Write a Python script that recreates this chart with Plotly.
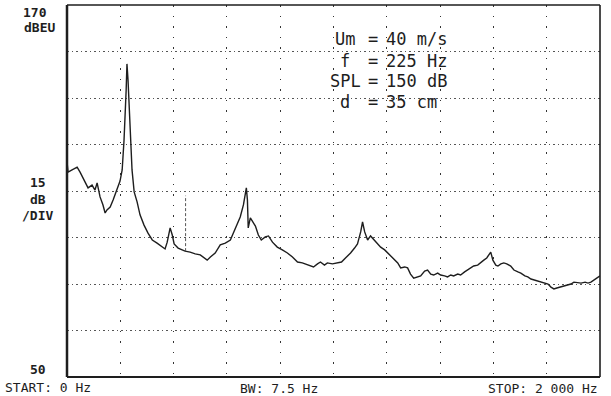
import plotly.graph_objects as go

# Spectrum: frequency (Hz) and level (dB)
freq_hz = [0, 4, 19, 38, 49, 60, 68, 79, 94, 105, 113, 124, 135, 143, 150, 162, 173, 184,
           199, 207, 214, 222, 225, 229, 237, 244, 252, 263, 274, 289, 304, 320, 338, 357,
           368, 376, 383, 387, 395, 402, 417, 432, 443, 462, 481, 500, 515,
           526, 538, 556, 575, 594, 613, 624, 639, 650, 662, 669, 673, 677, 680, 688, 699,
           707, 718, 729, 744, 756, 771, 789, 808, 827, 846, 865, 883, 902, 925, 940, 951,
           966, 977, 996, 1015, 1030, 1045, 1064, 1079, 1090, 1102, 1109, 1117, 1128, 1139,
           1150, 1162, 1177, 1192, 1203, 1222, 1241, 1252, 1267, 1278, 1289, 1301, 1316,
           1327, 1342, 1353, 1365, 1376, 1391, 1402, 1417, 1428, 1440, 1451, 1466, 1477,
           1492, 1504, 1515, 1526, 1541, 1553, 1564, 1575, 1583, 1590, 1598, 1609, 1617,
           1628, 1639, 1650, 1665, 1677, 1692, 1703, 1718, 1729, 1741, 1752, 1767, 1778,
           1790, 1805, 1816, 1827, 1838, 1853, 1865, 1880, 1891, 1902, 1917, 1929, 1944,
           1955, 1966, 1977, 1989, 2000]
level_db = [119.4, 116.1, 116.8, 117.7, 116.1, 114.2, 112.9, 111.0, 111.9, 110.3, 112.6,
            108.1, 105.5, 102.9, 103.9, 104.8, 107.1, 110.0, 113.2, 116.8, 126.4, 142.6,
            151.0, 145.8, 129.7, 116.8, 109.7, 106.5, 102.3, 99.0, 96.4, 94.2, 93.2, 91.9,
            91.3, 93.5, 97.4, 98.1, 95.8, 92.9, 91.6, 91.0, 90.6, 90.3,
            89.7, 89.4, 88.4, 87.7, 88.7, 90.0, 92.6, 93.2, 94.2, 96.5, 99.0, 101.6, 105.5,
            108.7, 111.0, 107.1, 98.1, 101.3, 100.0, 98.7, 95.8, 94.2, 95.2, 95.5, 93.5,
            91.9, 91.0, 90.0, 88.7, 87.1, 86.8, 86.1, 85.5, 86.5, 87.1, 86.1, 86.8, 86.5,
            86.8, 87.1, 88.4, 90.0, 91.6, 92.9, 96.8, 100.0, 96.8, 94.2, 95.5, 94.5, 93.5,
            91.9, 91.0, 90.0, 88.4, 86.8, 85.2, 85.5, 85.2, 83.2, 81.9, 82.3, 82.6, 84.2,
            84.5, 83.2, 82.9, 83.5, 82.9, 82.6, 82.3, 82.9, 82.6, 83.2, 82.9, 83.9, 84.5,
            85.2, 85.8, 86.1, 86.8, 87.7, 88.4, 89.4, 90.3, 87.7, 86.1, 85.8, 86.5, 86.8,
            86.5, 85.8, 84.5, 83.9, 83.5, 82.6, 82.3, 81.6, 81.3, 81.0, 80.6, 80.3, 80.0,
            79.0, 78.4, 78.7, 79.0, 79.4, 79.7, 80.0, 80.6, 80.3, 80.3, 80.6, 80.3, 80.6,
            81.3, 81.9, 82.6]

# Narrow faint spike near 445 Hz
spike_hz = [445, 445]
spike_db = [90.6, 108.5]

# Analyzer settings
ref_level = 170
bottom_level = 50
db_per_div = 15
start_hz = 0
stop_hz = 2000
hz_per_div = 200

# Test conditions
cond_names = ["Um", "f", "SPL", "d"]
cond_values = ["40 m/s", "225 Hz", "150 dB", "35 cm"]

INK = "#1e1e1e"
MONO = "DejaVu Sans Mono"

fig = go.Figure()
fig.add_trace(go.Scatter(x=freq_hz, y=level_db, mode="lines",
                         line=dict(color=INK, width=1.4), hoverinfo="skip"))
fig.add_trace(go.Scatter(x=spike_hz, y=spike_db, mode="lines",
                         line=dict(color="#555", width=1, dash="3px,2px"), hoverinfo="skip"))

fig.update_layout(
    width=611, height=396,
    margin=dict(l=67, r=11, t=5, b=19),
    paper_bgcolor="white", plot_bgcolor="white",
    showlegend=False,
)
fig.update_xaxes(range=[start_hz, stop_hz], dtick=hz_per_div, tick0=0,
                 showgrid=True, gridcolor="#333", gridwidth=1.3, griddash="1.5px,9px",
                 showticklabels=False, zeroline=False, ticks="", showline=False)
fig.update_yaxes(range=[bottom_level, ref_level], dtick=db_per_div, tick0=bottom_level,
                 showgrid=True, gridcolor="#555", gridwidth=1.2, griddash="1.5px,3px",
                 showticklabels=False, zeroline=False, ticks="", showline=False)

# Plot frame
frame = [((0, 0), (0, 1), 2.5), ((0, 0), (1, 0), 2.2), ((0, 1), (1, 1), 1.6), ((1, 0), (1, 1), 1.6)]
for (x0, y0), (x1, y1), w in frame:
    fig.add_shape(type="line", xref="paper", yref="paper", x0=x0, y0=y0, x1=x1, y1=y1,
                  line=dict(color=INK, width=w))

def label(text, x, y, size=13, anchor="center", bold=False):
    fig.add_annotation(text=f"<b>{text}</b>" if bold else text, xref="paper", yref="paper",
                       x=x, y=y, xanchor=anchor, yanchor="middle", showarrow=False,
                       font=dict(family=MONO, size=size, color=INK))

# Pixel -> paper helpers for the 533x372 plot area
px = lambda v: (v - 67) / 533
py = lambda v: (377 - v) / 372

label(str(ref_level), px(35), py(13), bold=True)
label("dBEU", px(39), py(28), bold=True)
label(str(db_per_div), px(38), py(182), bold=True)
label("dB", px(38), py(199), bold=True)
label("/DIV", px(37), py(216), bold=True)
label(str(bottom_level), px(38), py(369), bold=True)
label(f"START: {start_hz} Hz", px(3), py(387), anchor="left")
label("BW: 7.5 Hz", px(279), py(388))
label("STOP: 2 000 Hz", px(600), py(388), anchor="right")

row_y = [39, 61, 81, 102]
for name, value, yy in zip(cond_names, cond_values, row_y):
    label(name, px(345), py(yy), size=17)
    label("=", px(373), py(yy), size=17)
    label(value, px(384), py(yy), size=17, anchor="left")

fig.write_html("out.html")
